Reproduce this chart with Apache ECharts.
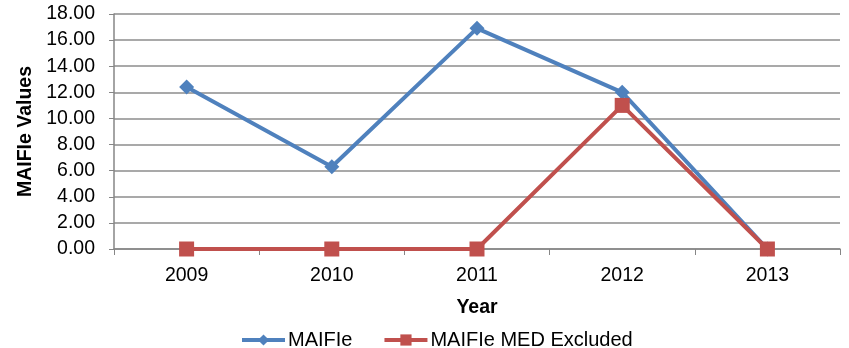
<!DOCTYPE html>
<html><head><meta charset="utf-8">
<script src="https://cdn.jsdelivr.net/npm/echarts@6/dist/echarts.min.js"></script>
<style>html,body{margin:0;padding:0;background:#fff}#c{width:849px;height:348px}</style>
</head><body><div id="c"></div>
<script>
var categories = ['2009','2010','2011','2012','2013'];
var maifie = [12.4, 6.3, 16.9, 12.0, 0];
var maifieMedExcluded = [0, 0, 0, 11.0, 0];
var yTicks = {min: 0, max: 18, interval: 2};

var chart = echarts.init(document.getElementById('c'));
var font = 'Liberation Sans, Arial, sans-serif';
chart.setOption({
  animation: false,
  grid: {left: 114, right: 9, top: 14, bottom: 99, containLabel: false},
  legend: {
    top: 330, left: 240, padding: 0, itemWidth: 43, itemHeight: 14, itemGap: 30,
    lineStyle: {width: 4},
    textStyle: {fontFamily: font, fontSize: 20, color: '#000', padding: [0,0,0,-2]},
    data: ['MAIFIe', 'MAIFIe MED Excluded']
  },
  xAxis: {
    type: 'category', data: categories, boundaryGap: true,
    name: 'Year', nameLocation: 'middle', nameGap: 49,
    nameTextStyle: {fontFamily: font, fontSize: 19.5, fontWeight: 'bold', color: '#000'},
    axisLine: {lineStyle: {color: '#868686', width: 1.5}},
    axisTick: {show: true, length: 6, lineStyle: {color: '#868686'}},
    axisLabel: {fontFamily: font, fontSize: 19.5, color: '#000', margin: 17}
  },
  yAxis: {
    type: 'value', min: yTicks.min, max: yTicks.max, interval: yTicks.interval,
    name: 'MAIFIe Values', nameLocation: 'middle', nameGap: 73, nameRotate: 90,
    nameTextStyle: {fontFamily: font, fontSize: 19.5, fontWeight: 'bold', color: '#000'},
    axisLine: {show: true, lineStyle: {color: '#868686', width: 1.5}},
    axisTick: {show: true, length: 5, lineStyle: {color: '#868686'}},
    splitLine: {lineStyle: {color: '#8c8c8c', width: 1.5}},
    axisLabel: {fontFamily: font, fontSize: 19.5, color: '#000', margin: 19,
      formatter: function(v){ return v.toFixed(2); }}
  },
  series: [
    {name: 'MAIFIe', type: 'line', data: maifie, symbol: 'diamond', symbolSize: 15,
     lineStyle: {color: '#4F81BD', width: 4}, itemStyle: {color: '#4F81BD'}, z: 2},
    {name: 'MAIFIe MED Excluded', type: 'line', data: maifieMedExcluded, symbol: 'rect', symbolSize: 15,
     lineStyle: {color: '#C0504D', width: 4}, itemStyle: {color: '#C0504D'}, z: 3}
  ]
});
</script></body></html>
